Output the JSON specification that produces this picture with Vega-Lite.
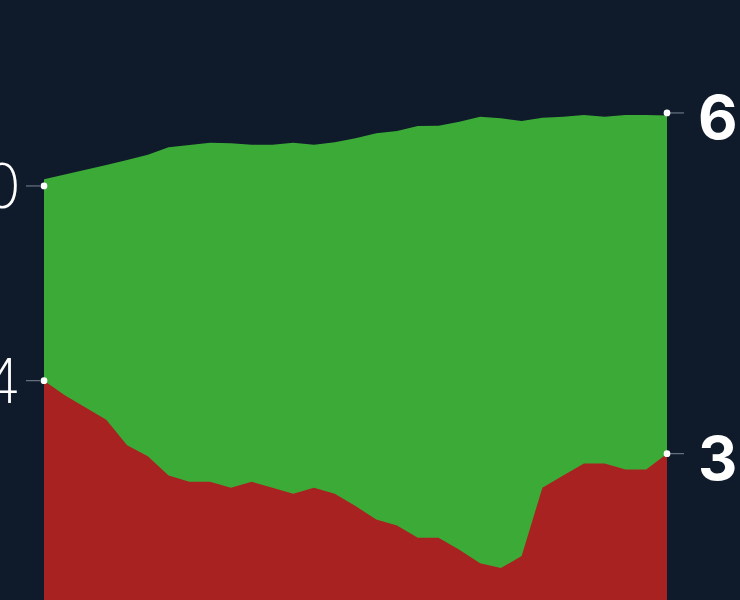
{
  "$schema": "https://vega.github.io/schema/vega-lite/v6.json",
  "autosize": "none",
  "width": 623,
  "height": 600,
  "padding": {"left": 44, "right": 73, "top": 0, "bottom": 0},
  "background": "#0f1a2b",
  "config": {"view": {"stroke": null}},
  "datasets": {
    "series": [
      {"year": 1990, "green": 60.55, "red": 44.0},
      {"year": 1991, "green": 60.94, "red": 42.8},
      {"year": 1992, "green": 61.34, "red": 41.8},
      {"year": 1993, "green": 61.73, "red": 40.8},
      {"year": 1994, "green": 62.14, "red": 38.7},
      {"year": 1995, "green": 62.57, "red": 37.8},
      {"year": 1996, "green": 63.18, "red": 36.2},
      {"year": 1997, "green": 63.37, "red": 35.7},
      {"year": 1998, "green": 63.56, "red": 35.7},
      {"year": 1999, "green": 63.51, "red": 35.2},
      {"year": 2000, "green": 63.39, "red": 35.7},
      {"year": 2001, "green": 63.39, "red": 35.2},
      {"year": 2002, "green": 63.56, "red": 34.7},
      {"year": 2003, "green": 63.39, "red": 35.2},
      {"year": 2004, "green": 63.59, "red": 34.7},
      {"year": 2005, "green": 63.92, "red": 33.7},
      {"year": 2006, "green": 64.33, "red": 32.6},
      {"year": 2007, "green": 64.52, "red": 32.1},
      {"year": 2008, "green": 64.93, "red": 31.1},
      {"year": 2009, "green": 64.95, "red": 31.1},
      {"year": 2010, "green": 65.28, "red": 30.1},
      {"year": 2011, "green": 65.69, "red": 29.0},
      {"year": 2012, "green": 65.56, "red": 28.6},
      {"year": 2013, "green": 65.34, "red": 29.6},
      {"year": 2014, "green": 65.61, "red": 35.2},
      {"year": 2015, "green": 65.69, "red": 36.2},
      {"year": 2016, "green": 65.83, "red": 37.2},
      {"year": 2017, "green": 65.69, "red": 37.2},
      {"year": 2018, "green": 65.83, "red": 36.7},
      {"year": 2019, "green": 65.83, "red": 36.7},
      {"year": 2020, "green": 65.78, "red": 38.0}
    ],
    "ends": [
      {"year": 1990, "value": 60, "label": "60", "side": "left"},
      {"year": 1990, "value": 44, "label": "44", "side": "left"},
      {"year": 2020, "value": 66, "label": "66", "side": "right"},
      {"year": 2020, "value": 38, "label": "38", "side": "right"}
    ]
  },
  "layer": [
    {
      "data": {"name": "series"},
      "mark": {"type": "area", "color": "#3caa37", "clip": true},
      "encoding": {
        "x": {"field": "year", "type": "quantitative", "scale": {"domain": [1990, 2020], "nice": false, "zero": false}, "axis": null},
        "y": {"field": "green", "type": "quantitative", "scale": {"domain": [25.98, 75.28], "nice": false, "zero": false}, "axis": null}
      }
    },
    {
      "data": {"name": "series"},
      "mark": {"type": "area", "color": "#a92222", "clip": true},
      "encoding": {
        "x": {"field": "year", "type": "quantitative"},
        "y": {"field": "red", "type": "quantitative"}
      }
    },
    {
      "data": {"name": "ends"},
      "transform": [{"filter": "datum.side == 'left'"}],
      "mark": {"type": "rule", "color": "#7a8494", "strokeWidth": 1, "xOffset": -18, "x2Offset": -4},
      "encoding": {
        "x": {"field": "year", "type": "quantitative"},
        "x2": {"field": "year"},
        "y": {"field": "value", "type": "quantitative"}
      }
    },
    {
      "data": {"name": "ends"},
      "transform": [{"filter": "datum.side == 'right'"}],
      "mark": {"type": "rule", "color": "#7a8494", "strokeWidth": 1, "xOffset": 3, "x2Offset": 17},
      "encoding": {
        "x": {"field": "year", "type": "quantitative"},
        "x2": {"field": "year"},
        "y": {"field": "value", "type": "quantitative"}
      }
    },
    {
      "data": {"name": "ends"},
      "mark": {"type": "point", "filled": true, "color": "#ffffff", "opacity": 1, "size": 45},
      "encoding": {
        "x": {"field": "year", "type": "quantitative"},
        "y": {"field": "value", "type": "quantitative"}
      }
    },
    {
      "data": {"name": "ends"},
      "transform": [{"filter": "datum.side == 'left'"}],
      "mark": {"type": "text", "align": "right", "baseline": "middle", "dx": -23, "dy": 3, "font": "Inter", "fontWeight": 200, "fontSize": 62, "color": "#ffffff"},
      "encoding": {
        "x": {"field": "year", "type": "quantitative"},
        "y": {"field": "value", "type": "quantitative"},
        "text": {"field": "label"}
      }
    },
    {
      "data": {"name": "ends"},
      "transform": [{"filter": "datum.side == 'right'"}],
      "mark": {"type": "text", "align": "left", "baseline": "middle", "dx": 31, "dy": 8, "font": "Inter", "fontWeight": 700, "fontSize": 61, "color": "#ffffff"},
      "encoding": {
        "x": {"field": "year", "type": "quantitative"},
        "y": {"field": "value", "type": "quantitative"},
        "text": {"field": "label"}
      }
    }
  ]
}
